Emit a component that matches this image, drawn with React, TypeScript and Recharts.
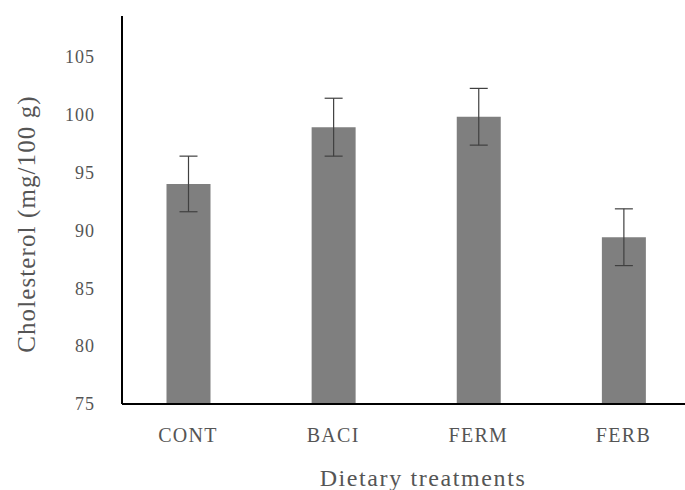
import { BarChart, Bar, XAxis, YAxis, ErrorBar } from 'recharts';

const treatments = ['CONT', 'BACI', 'FERM', 'FERB'];
const cholesterol = [94.0, 98.9, 99.8, 89.4];
const stdError = [2.4, 2.5, 2.45, 2.45];
const yTicks = [75, 80, 85, 90, 95, 100, 105];

const data = treatments.map((name, i) => ({
  name,
  value: cholesterol[i],
  err: stdError[i],
}));

const textColor = '#555555';
const font = "'Liberation Serif', 'DejaVu Serif', serif";

export default function App() {
  return (
    <div
      style={{
        position: 'absolute',
        left: 0,
        top: 0,
        width: 685,
        height: 490,
        overflow: 'hidden',
        background: '#fff',
        fontFamily: font,
      }}
    >
      <BarChart
        width={696}
        height={490}
        data={data}
        margin={{ top: 16, right: 0, left: 0, bottom: 56 }}
        style={{ fontFamily: font }}
      >
        <XAxis
          dataKey="name"
          height={30}
          padding={{ left: -6.5, right: 0 }}
          axisLine={{ stroke: '#000', strokeWidth: 2 }}
          tickLine={false}
          tickMargin={18}
          tick={{ fill: textColor, fontSize: 20, style: { fontFamily: font }, letterSpacing: 1.3 }}
          label={{
            content: () => (
              <text
                x={423}
                y={486}
                textAnchor="middle"
                fill={textColor}
                fontSize={24}
                style={{ fontFamily: font }}
                letterSpacing={1.6}
              >
                Dietary treatments
              </text>
            ),
          }}
        />
        <YAxis
          width={122}
          domain={[75, 108.5]}
          ticks={yTicks}
          allowDataOverflow
          axisLine={{ stroke: '#000', strokeWidth: 2 }}
          tickLine={false}
          tickMargin={21}
          tick={{ fill: textColor, fontSize: 18, style: { fontFamily: font }, letterSpacing: 1 }}
          label={{
            content: () => (
              <text
                x={26}
                y={224}
                transform="rotate(-90 26 224)"
                textAnchor="middle"
                dominantBaseline="central"
                fill={textColor}
                fontSize={25}
                style={{ fontFamily: font }}
                letterSpacing={1.1}
              >
                Cholesterol (mg/100 g)
              </text>
            ),
          }}
        />
        <Bar dataKey="value" fill="#7f7f7f" barSize={44} isAnimationActive={false}>
          <ErrorBar dataKey="err" width={9} stroke="#404040" strokeWidth={1.2} />
        </Bar>
      </BarChart>
    </div>
  );
}
